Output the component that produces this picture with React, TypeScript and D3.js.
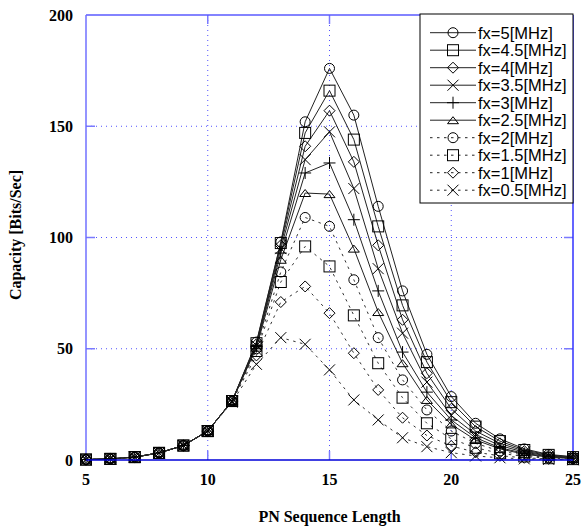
import React from 'react';
import * as d3 from 'd3';

// PN sequence lengths on the x axis
const pnLengths = [5, 6, 7, 8, 9, 10, 11, 12, 13, 14, 15, 16, 17, 18, 19, 20, 21, 22, 23, 24, 25];

const xTicks = [5, 10, 15, 20, 25];
const yTicks = [0, 50, 100, 150, 200];

// capacity values, one array per fx
const fx5 = [0.2, 0.5, 1.3, 3.2, 6.5, 13, 26.5, 53, 98, 152, 176, 155, 114, 76, 47.5, 28.5, 16.5, 9.5, 5, 2.5, 1.5];
const fx45 = [0.2, 0.5, 1.3, 3.2, 6.5, 13, 26.5, 52.5, 97.5, 147, 166, 144, 105, 69.5, 44, 26, 15, 8.5, 4.5, 2.3, 1.3];
const fx4 = [0.2, 0.5, 1.3, 3.2, 6.5, 13, 26.5, 52, 96.5, 141, 157, 134, 96.5, 63, 39, 23, 13, 7.5, 4, 2, 1.1];
const fx35 = [0.2, 0.5, 1.3, 3.2, 6.5, 13, 26.5, 51.5, 95, 135, 147.5, 122, 86, 57, 35, 20, 11.5, 6.5, 3.5, 1.8, 1];
const fx3 = [0.2, 0.5, 1.3, 3.2, 6.5, 13, 26.5, 51, 93, 129, 133.5, 108, 76, 48.5, 30.5, 18, 10, 5.5, 3, 1.5, 0.8];
const fx25 = [0.2, 0.5, 1.3, 3.2, 6.5, 13, 26.5, 50.5, 90, 120, 119.5, 95, 66.5, 43.5, 27, 16, 9, 5, 2.6, 1.3, 0.7];
const fx2 = [0.2, 0.5, 1.3, 3.2, 6.5, 13, 26.5, 50, 84.5, 109, 105, 81, 55, 36, 22.5, 13, 7.5, 4, 2.2, 1.1, 0.6];
const fx15 = [0.2, 0.5, 1.3, 3.2, 6.5, 13, 26.5, 49, 80, 96, 87, 65, 43.5, 28, 16.5, 9.5, 5.5, 3, 1.6, 0.8, 0.4];
const fx1 = [0.2, 0.5, 1.3, 3.2, 6.5, 13, 26.5, 47, 71, 78, 66, 48, 31.5, 19, 11, 6.3, 3.5, 1.9, 1, 0.5, 0.3];
const fx05 = [0.2, 0.5, 1.3, 3.2, 6.5, 13, 26, 43, 55, 52, 40.5, 27, 18, 10, 6, 3.3, 1.8, 1, 0.5, 0.3, 0.1];

const seriesNames = ['fx=5[MHz]', 'fx=4.5[MHz]', 'fx=4[MHz]', 'fx=3.5[MHz]', 'fx=3[MHz]',
  'fx=2.5[MHz]', 'fx=2[MHz]', 'fx=1.5[MHz]', 'fx=1[MHz]', 'fx=0.5[MHz]'];
const seriesValues = [fx5, fx45, fx4, fx35, fx3, fx25, fx2, fx15, fx1, fx05];
const seriesMarkers = ['circle', 'square', 'diamond', 'x', 'plus', 'triangle', 'circle', 'square', 'diamond', 'x'];
const seriesDashed = [false, false, false, false, false, false, true, true, true, true];

const W = 582;
const H = 531;
const plot = { left: 86, right: 573, top: 15, bottom: 460 };

const x = d3.scaleLinear().domain([5, 25]).range([plot.left, plot.right]);
const y = d3.scaleLinear().domain([0, 200]).range([plot.bottom, plot.top]);

const line = d3.line<number>()
  .x((_, i) => x(pnLengths[i]))
  .y((d) => y(d));

// draws one hollow marker centred at cx, cy
function Marker({ kind, cx, cy }: { kind: string; cx: number; cy: number }) {
  const common = { fill: 'none', stroke: '#000', strokeWidth: 1 };
  if (kind === 'circle') return <circle cx={cx} cy={cy} r={5} {...common} />;
  if (kind === 'square') return <rect x={cx - 5.5} y={cy - 5.5} width={11} height={11} {...common} />;
  let d = '';
  if (kind === 'diamond') d = `M${cx},${cy - 5.5}L${cx + 5.5},${cy}L${cx},${cy + 5.5}L${cx - 5.5},${cy}Z`;
  if (kind === 'x') d = `M${cx - 5.5},${cy - 5.5}L${cx + 5.5},${cy + 5.5}M${cx - 5.5},${cy + 5.5}L${cx + 5.5},${cy - 5.5}`;
  if (kind === 'plus') d = `M${cx - 6},${cy}L${cx + 6},${cy}M${cx},${cy - 6}L${cx},${cy + 6}`;
  if (kind === 'triangle') d = `M${cx - 5.5},${cy + 3.5}L${cx + 5.5},${cy + 3.5}L${cx},${cy - 3.5}Z`;
  return <path d={d} {...common} />;
}

export default function App() {
  const serif = '"Liberation Serif", "Times New Roman", serif';
  const sans = '"Liberation Sans", Arial, sans-serif';
  const legend = { x: 420, y: 14, w: 153, h: 189, row: 17.5 };

  return (
    <svg width={W} height={H} style={{ position: 'absolute', left: 0, top: 0, background: '#fff' }}>
      {/* dotted grid */}
      {xTicks.slice(1, -1).map((t) => (
        <line key={'gx' + t} x1={x(t)} x2={x(t)} y1={plot.top} y2={plot.bottom}
          stroke="#5050ff" strokeWidth={1} strokeDasharray="1,4" />
      ))}
      {yTicks.slice(1, -1).map((t) => (
        <line key={'gy' + t} x1={plot.left} x2={plot.right} y1={y(t)} y2={y(t)}
          stroke="#5050ff" strokeWidth={1} strokeDasharray="1,4" />
      ))}

      {/* tick marks on all four sides */}
      {xTicks.slice(1, -1).map((t) => (
        <g key={'tx' + t} stroke="#7a7aff" strokeWidth={1.5}>
          <line x1={x(t)} x2={x(t)} y1={plot.bottom} y2={plot.bottom - 9} />
          <line x1={x(t)} x2={x(t)} y1={plot.top} y2={plot.top + 9} />
        </g>
      ))}
      {yTicks.slice(1, -1).map((t) => (
        <g key={'ty' + t} stroke="#7a7aff" strokeWidth={1.5}>
          <line x1={plot.left} x2={plot.left + 9} y1={y(t)} y2={y(t)} />
          <line x1={plot.right} x2={plot.right - 9} y1={y(t)} y2={y(t)} />
        </g>
      ))}

      {/* frame */}
      <line x1={plot.left} x2={plot.right} y1={plot.top} y2={plot.top} stroke="#5a5aff" strokeWidth={1.5} />
      <line x1={plot.right} x2={plot.right} y1={plot.top} y2={plot.bottom} stroke="#3030ff" strokeWidth={1.5} />
      <line x1={plot.left} x2={plot.left} y1={plot.top} y2={plot.bottom} stroke="#7070ff" strokeWidth={1.5} />

      {/* series lines */}
      {seriesValues.map((vals, si) => (
        <path key={'l' + si} d={line(vals) || ''} fill="none"
          stroke={seriesDashed[si] ? '#333' : '#222'} strokeWidth={1}
          strokeDasharray={seriesDashed[si] ? '2.5,4.5' : undefined} />
      ))}
      {/* series markers */}
      {seriesValues.map((vals, si) => (
        <g key={'m' + si}>
          {vals.map((v, i) => (
            <Marker key={i} kind={seriesMarkers[si]} cx={x(pnLengths[i])} cy={y(v)} />
          ))}
        </g>
      ))}

      <line x1={plot.left} x2={plot.right} y1={plot.bottom} y2={plot.bottom} stroke="#0000d8" strokeWidth={1.5} />

      {/* tick labels */}
      {yTicks.map((t) => (
        <text key={'ly' + t} x={73} y={y(t)} dy="0.35em" textAnchor="end"
          fontFamily={serif} fontWeight="bold" fontSize={16}>{t}</text>
      ))}
      {xTicks.map((t) => (
        <text key={'lx' + t} x={x(t)} y={485} textAnchor="middle"
          fontFamily={serif} fontWeight="bold" fontSize={16}>{t}</text>
      ))}

      {/* axis titles */}
      <text x={(plot.left + plot.right) / 2} y={522} textAnchor="middle"
        fontFamily={serif} fontWeight="bold" fontSize={16}>PN Sequence Length</text>
      <text transform={`translate(21,${235}) rotate(-90)`} textAnchor="middle"
        fontFamily={serif} fontWeight="bold" fontSize={16}>Capacity [Bits/Sec]</text>

      {/* legend */}
      <rect x={legend.x} y={legend.y} width={legend.w} height={legend.h} fill="#fff" stroke="#000" strokeWidth={1} />
      {seriesNames.map((name, i) => {
        const cy = 32.7 + i * legend.row;
        return (
          <g key={'lg' + i}>
            <line x1={430} x2={476} y1={cy} y2={cy} stroke="#222" strokeWidth={1}
              strokeDasharray={seriesDashed[i] ? '2.5,4.5' : undefined} />
            <Marker kind={seriesMarkers[i]} cx={453} cy={cy} />
            <text x={478} y={cy} dy="0.36em" fontFamily={sans} fontSize={16.5} fill="#000">{name}</text>
          </g>
        );
      })}
    </svg>
  );
}
